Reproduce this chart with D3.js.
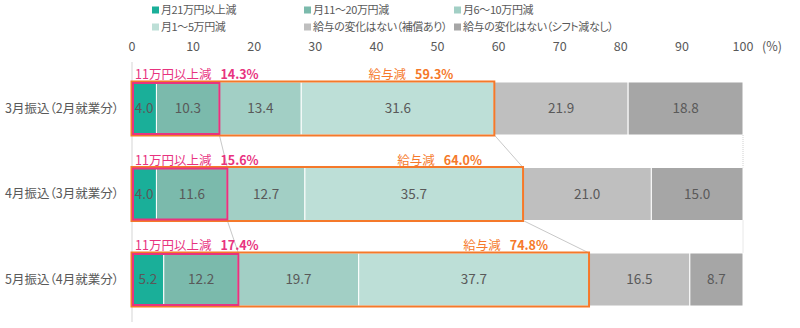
<!DOCTYPE html>
<html><head><meta charset="utf-8">
<script src="https://cdn.jsdelivr.net/npm/d3@7/dist/d3.min.js"></script>
<style>
html,body{margin:0;padding:0;background:#fff;}
svg{display:block;font-family:"Noto Sans CJK JP","Noto Sans",sans-serif;font-feature-settings:"palt" 1;}
</style></head>
<body><svg id="chart" width="800" height="328"></svg>
<script>
const categories = ["3月振込（2月就業分）", "4月振込（3月就業分）", "5月振込（4月就業分）"];
const seriesNames = ["月21万円以上減", "月11～20万円減", "月6～10万円減", "月1～5万円減", "給与の変化はない（補償あり）", "給与の変化はない（シフト減なし）"];
const s1 = [4.0, 4.0, 5.2];
const s2 = [10.3, 11.6, 12.2];
const s3 = [13.4, 12.7, 19.7];
const s4 = [31.6, 35.7, 37.7];
const s5 = [21.9, 21.0, 16.5];
const s6 = [18.8, 15.0, 8.7];
const series = [s1, s2, s3, s4, s5, s6];
const colors = ["#1aaf99", "#7bbaac", "#a2cfc5", "#bddfd7", "#bfbfbf", "#a6a6a6"];
const xTicks = [0, 10, 20, 30, 40, 50, 60, 70, 80, 90, 100];
const pinkLabel = "11万円以上減";
const orangeLabel = "給与減";
const pinkColor = "#e8337f";
const orangeColor = "#f5792a";
const textColor = "#595959";

const svg = d3.select("#chart");
const x = d3.scaleLinear().domain([0, 100]).range([132, 743]);
const y = d3.scaleBand().domain(categories).range([49.5, 338.5]).padding(0.38);
const bh = y.bandwidth();

// legend
const legCols = [152, 304, 454];
const legRows = [10, 27];
seriesNames.forEach((n, i) => {
  const lx = legCols[i % 3], ly = legRows[Math.floor(i / 3)];
  svg.append("rect").attr("x", lx).attr("y", ly - 3.5).attr("width", 7).attr("height", 7).attr("fill", colors[i]);
  svg.append("text").attr("x", lx + 9).attr("y", ly).attr("dy", "0.35em")
    .attr("font-size", 11).attr("letter-spacing", -0.4).attr("fill", textColor).text(n);
});

// x axis ticks (top)
svg.append("g").selectAll("text").data(xTicks).join("text")
  .attr("x", d => x(d)).attr("y", 47).attr("dy", "0.35em").attr("text-anchor", "middle")
  .attr("font-size", 12.5).attr("fill", textColor).text(d => d);
svg.append("text").attr("x", 772).attr("y", 47).attr("dy", "0.35em").attr("text-anchor", "middle")
  .attr("font-size", 12.5).attr("fill", textColor).text("(%)");

// vertical axis line
svg.append("line").attr("x1", x(0)).attr("x2", x(0)).attr("y1", 62).attr("y2", 322)
  .attr("stroke", "#e3e3e3").attr("stroke-width", 1.5);

// category labels
svg.append("g").selectAll("text").data(categories).join("text")
  .attr("x", 119).attr("y", d => y(d) + bh / 2).attr("dy", "0.35em").attr("text-anchor", "end")
  .attr("font-size", 12.5).attr("fill", textColor).text(d => d);

// stacked bars
const rows = categories.map((c, r) => {
  let acc = 0;
  const segs = series.map((s, i) => { const a = acc; acc += s[r]; return { i, v: s[r], x0: a, x1: acc }; });
  return { c, segs };
});
const rowG = svg.append("g").selectAll("g").data(rows).join("g");
rowG.selectAll("rect").data(d => d.segs).join("rect")
  .attr("x", d => x(d.x0)).attr("width", d => x(d.x1) - x(d.x0))
  .attr("y", function () { return y(d3.select(this.parentNode).datum().c); })
  .attr("height", bh).attr("fill", d => colors[d.i]).attr("stroke", "#fff").attr("stroke-width", 1);
rowG.selectAll("text").data(d => d.segs).join("text")
  .attr("x", d => x((d.x0 + d.x1) / 2))
  .attr("y", function () { return y(d3.select(this.parentNode).datum().c) + bh / 2; })
  .attr("dy", "0.35em").attr("text-anchor", "middle").attr("font-size", 13.5).attr("fill", textColor)
  .text(d => d.v.toFixed(1));

// totals
const pinkTot = categories.map((c, r) => s1[r] + s2[r]);
const orangeTot = categories.map((c, r) => s1[r] + s2[r] + s3[r] + s4[r]);

// connector lines
for (let r = 0; r < categories.length - 1; r++) {
  const yb = y(categories[r]) + bh, yt = y(categories[r + 1]);
  svg.append("line").attr("x1", x(pinkTot[r])).attr("y1", yb).attr("x2", x(pinkTot[r + 1])).attr("y2", yt)
    .attr("stroke", "#c8c8c8").attr("stroke-width", 1);
  svg.append("line").attr("x1", x(orangeTot[r])).attr("y1", yb).attr("x2", x(orangeTot[r + 1])).attr("y2", yt)
    .attr("stroke", "#c8c8c8").attr("stroke-width", 1);
  svg.append("line").attr("x1", x(100)).attr("y1", yb).attr("x2", x(100)).attr("y2", yt)
    .attr("stroke", "#d0d0d0").attr("stroke-width", 1).attr("stroke-dasharray", "1,1");
}

// boxes
categories.forEach((c, r) => {
  const yt = y(c);
  svg.append("rect").attr("x", x(0) - 0.5).attr("y", yt - 0.5)
    .attr("width", x(orangeTot[r]) - x(0) + 0.5).attr("height", bh + 1)
    .attr("fill", "none").attr("stroke", orangeColor).attr("stroke-width", 2);
  svg.append("rect").attr("x", x(0) + 1).attr("y", yt + 1)
    .attr("width", x(pinkTot[r]) - x(0) - 1).attr("height", bh - 2)
    .attr("fill", "none").attr("stroke", pinkColor).attr("stroke-width", 2);
  // labels
  const pt = svg.append("text").attr("x", x(0) + 3).attr("y", yt - 7).attr("dy", "0.35em")
    .attr("font-size", 12.5).attr("fill", pinkColor);
  pt.append("tspan").text(pinkLabel);
  pt.append("tspan").attr("dx", 9).attr("font-weight", "bold").text(pinkTot[r].toFixed(1) + "%");
  const ot = svg.append("text").attr("x", x(orangeTot[r]) - 41).attr("y", yt - 7).attr("dy", "0.35em")
    .attr("text-anchor", "end").attr("font-size", 12.5).attr("fill", orangeColor);
  ot.append("tspan").text(orangeLabel);
  ot.append("tspan").attr("dx", 9).attr("font-weight", "bold").text(orangeTot[r].toFixed(1) + "%");
});
</script></body></html>
